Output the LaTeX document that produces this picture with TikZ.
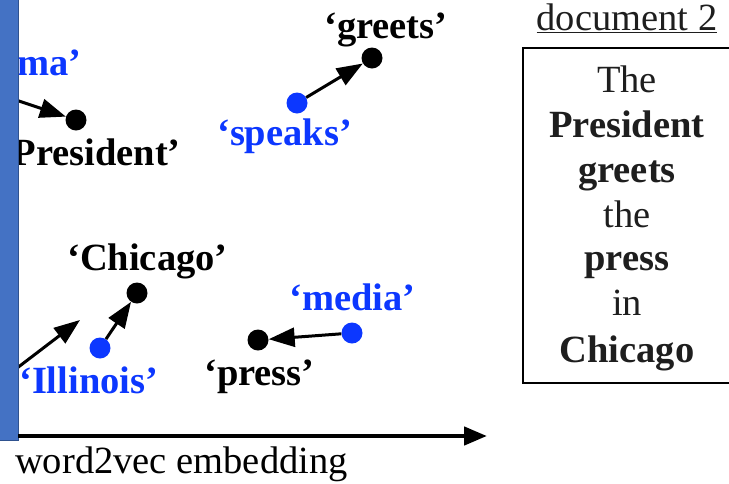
\documentclass[tikz,border=0pt]{standalone}
\usepackage{fontspec}
\setmainfont{Liberation Serif}
\usetikzlibrary{arrows.meta}
\definecolor{wblue}{RGB}{12,55,255}
\definecolor{barfill}{RGB}{68,114,196}
\definecolor{barline}{RGB}{47,82,143}
\definecolor{doctxt}{RGB}{30,30,30}
\tikzset{
  lbl/.style={inner sep=0pt, font=\fontsize{38.5}{46}\selectfont\bfseries},
  blbl/.style={lbl, text=wblue},
  dot/.style={circle, fill=black, inner sep=0pt, minimum size=21pt},
  bdot/.style={dot, fill=wblue},
  vec/.style={line width=3pt, -{Triangle[length=26pt,width=19pt]}},
  doctext/.style={inner sep=0pt, text=doctxt, font=\fontsize{38.5}{46}\selectfont, anchor=base},
  docbold/.style={doctext, font=\fontsize{38.5}{46}\selectfont\bfseries},
}
\begin{document}
\begin{tikzpicture}[x=1pt,y=-1pt]
\useasboundingbox (0,0) rectangle (729,483);
\clip (0,0) rectangle (729,483);
% labels
\node[blbl, anchor=base east] (obama) at (82,75) {‘Obama’};
\node[lbl, anchor=base east] (presl) at (181,165) {‘President’};
\node[lbl, anchor=base west] (greetsl) at (324,38) {‘greets’};
\node[blbl, anchor=base west] (speaksl) at (217,145) {‘speaks’};
\node[lbl, anchor=base west] (chicagol) at (67,270) {‘Chicago’};
\node[blbl, anchor=base west] (illinoisl) at (19,393) {‘Illinois’};
\node[blbl, anchor=base west] (medial) at (289,310) {‘media’};
\node[lbl, anchor=base west] (pressl) at (204,385) {‘press’};
% dots
\node[dot] (pres) at (76,120) {};
\node[dot] (greets) at (372,58) {};
\node[bdot] (speaks) at (297,103) {};
\node[dot] (chicago) at (137,293) {};
\node[bdot] (illinois) at (100,348) {};
\node[dot] (press) at (258,340) {};
\node[bdot] (media) at (352,333) {};
% arrows
\coordinate (obamaSrc) at (4,96);
\coordinate (chiSrc) at (4,378);
\coordinate (chiTip) at (80,320);
\draw[vec] (obamaSrc) -- (pres);
\draw[vec] (speaks) -- (greets);
\draw[vec] (illinois) -- (chicago);
\draw[vec] (media) -- (press);
\draw[vec] (chiSrc) -- (chiTip);
% bar
\draw[fill=barfill, draw=barline, line width=1pt] (-3,-3) rectangle (18,440);
% axis
\coordinate (axS) at (18,436);
\coordinate (axE) at (487,436);
\draw[line width=4.5pt, -{Triangle[length=23pt,width=18pt]}] (axS) -- (axE);
\node[inner sep=0pt, anchor=base west, font=\fontsize{38.5}{46}\selectfont] (axlbl) at (15,473) {word2vec embedding};
% document box
\node[doctext] (doctitle) at (627,30) {\underline{document 2}};
\draw[line width=1.6pt] (523,48) rectangle (760,383);
\node[doctext] (w1) at (627,92) {The};
\node[docbold] (w2) at (627,137) {President};
\node[docbold] (w3) at (627,182) {greets};
\node[doctext] (w4) at (627,227) {the};
\node[docbold] (w5) at (627,270) {press};
\node[doctext] (w6) at (627,315) {in};
\node[docbold] (w7) at (627,362) {Chicago};
\end{tikzpicture}
\end{document}
